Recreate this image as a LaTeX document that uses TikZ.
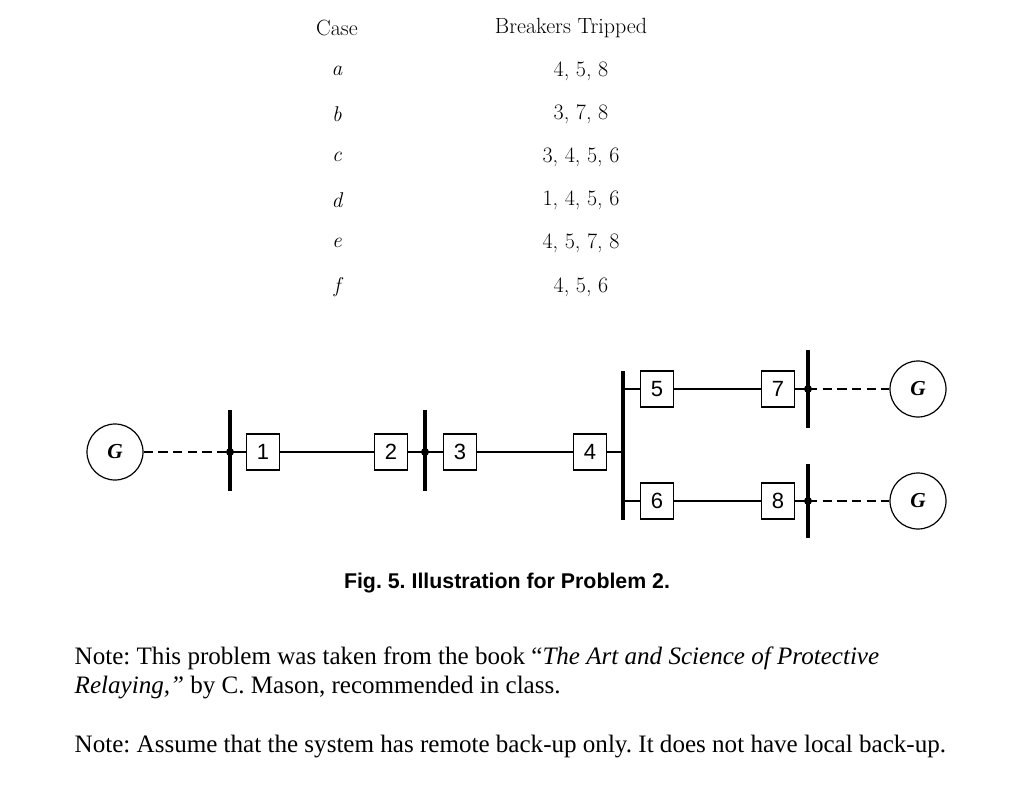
\documentclass[tikz,border=0pt]{standalone}
\usepackage{fontspec}
\newfontfamily\tnr{Liberation Serif}
\newfontfamily\hel{Liberation Sans}
\begin{document}
\frenchspacing
\begin{tikzpicture}[x=0.75pt,y=-0.75pt,
  brk/.style={draw,line width=1pt,minimum width=25pt,minimum height=27pt,inner sep=0pt,font=\hel\fontsize{16.5}{18}\selectfont},
  gen/.style={draw,circle,line width=0.9pt,minimum size=42pt,inner sep=0pt,font=\tnr\itshape\bfseries\fontsize{16}{18}\selectfont},
  bus/.style={line width=2.4pt},
  ln/.style={line width=1.3pt},
  dl/.style={line width=1.3pt,dash pattern=on 7pt off 4pt},
  tb/.style={font=\fontsize{16.5}{19}\selectfont}]
\useasboundingbox (0,0) rectangle (1024,789);
% table
\node[tb] (h1) at (337,28) {Case};
\node[tb] (h2) at (571,28) {Breakers Tripped};
\foreach \c/\v/\y in {a/{4, 5, 8}/71,b/{3, 7, 8}/114,c/{3, 4, 5, 6}/157,d/{1, 4, 5, 6}/200,e/{4, 5, 7, 8}/243,f/{4, 5, 6}/287}{
  \node[tb,font=\itshape\fontsize{16}{18}\selectfont] (c\c) at (337,\y) {\c};
  \node[tb] (v\c) at (581,\y) {\v};
}
% buses
\coordinate (b1t) at (230,410); \coordinate (b1b) at (230,491);
\coordinate (b2t) at (425,410); \coordinate (b2b) at (425,491);
\coordinate (b3t) at (623,371); \coordinate (b3b) at (623,520);
\coordinate (b4t) at (808,350); \coordinate (b4b) at (808,428);
\coordinate (b5t) at (808,464); \coordinate (b5b) at (808,538);
\draw[bus] (b1t)--(b1b); \draw[bus] (b2t)--(b2b); \draw[bus] (b3t)--(b3b);
\draw[bus] (b4t)--(b4b); \draw[bus] (b5t)--(b5b);
\coordinate (j1) at (230,452); \coordinate (j2) at (425,452);
\coordinate (j3) at (623,452); \coordinate (j5) at (623,389); \coordinate (j6) at (623,501);
\coordinate (j7) at (808,389); \coordinate (j8) at (808,501);
\fill (j1) circle (3pt); \fill (j2) circle (3pt); \fill (j7) circle (3pt); \fill (j8) circle (3pt);
% generators
\node[gen] (g1) at (115,452) {G};
\node[gen] (g2) at (918,389) {G};
\node[gen] (g3) at (918,501) {G};
% breakers
\node[brk] (k1) at (263,452) {1};
\node[brk] (k2) at (391,452) {2};
\node[brk] (k3) at (460,452) {3};
\node[brk] (k4) at (590,452) {4};
\node[brk] (k5) at (657,389) {5};
\node[brk] (k7) at (778,389) {7};
\node[brk] (k6) at (657,501) {6};
\node[brk] (k8) at (778,501) {8};
% lines
\draw[dl] (g1)--(j1); \draw[ln] (j1)--(k1); \draw[ln] (k1)--(k2); \draw[ln] (k2)--(j2);
\draw[ln] (j2)--(k3); \draw[ln] (k3)--(k4); \draw[ln] (k4)--(j3);
\draw[ln] (j5)--(k5); \draw[ln] (k5)--(k7); \draw[ln] (k7)--(j7); \draw[dl] (j7)--(g2);
\draw[ln] (j6)--(k6); \draw[ln] (k6)--(k8); \draw[ln] (k8)--(j8); \draw[dl] (j8)--(g3);
% caption and notes
\node[font=\hel\bfseries\fontsize{16}{18}\selectfont] (cap) at (507,583) {Fig. 5. Illustration for Problem 2.};
\node[anchor=west,font=\tnr\fontsize{18.8}{22}\selectfont,align=left] (n1) at (70,673) {Note: This problem was taken from the book “\textit{The Art and Science of Protective}\\\textit{Relaying,”} by C. Mason, recommended in class.};
\node[anchor=west,font=\tnr\fontsize{18.8}{22}\selectfont] (n2) at (70,746) {Note: Assume that the system has remote back-up only. It does not have local back-up.};
\end{tikzpicture}
\end{document}
